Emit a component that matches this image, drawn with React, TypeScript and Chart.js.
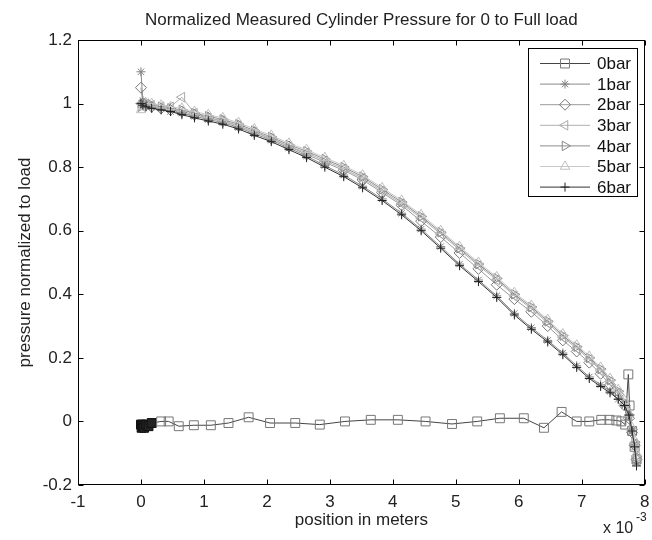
import React, { useEffect, useRef } from 'react';
import { Chart, registerables } from 'chart.js';
import { drawPoint } from 'chart.js/helpers';

Chart.register(...registerables);

// ---------- data (x in units of 1e-3 m) ----------
const xZero = [0, 0.01, 0.02, 0.03, 0.05, 0.08, 0.12, 0.17, 0.32, 0.44, 0.6, 0.84, 1.11, 1.39, 1.71, 2.05, 2.45, 2.84, 3.24, 3.65, 4.08, 4.52, 4.94, 5.34, 5.70, 6.08, 6.40, 6.68, 6.92, 7.12, 7.31, 7.44, 7.55, 7.63, 7.69, 7.74, 7.76, 7.8, 7.84, 7.87];
const y0bar = [-0.01, -0.02, -0.01, -0.015, -0.02, -0.01, -0.015, -0.005, 0, 0, -0.015, -0.012, -0.012, -0.005, 0.013, -0.005, -0.005, -0.01, 0, 0.005, 0.005, 0, -0.008, 0, 0.01, 0.01, -0.02, 0.03, 0, 0, 0.005, 0.005, 0.003, 0, -0.01, 0.148, 0.05, -0.03, -0.08, -0.12];

const xLoad = [0, 0.03, 0.08, 0.17, 0.32, 0.47, 0.65, 0.85, 1.07, 1.3, 1.55, 1.8, 2.07, 2.35, 2.63, 2.92, 3.22, 3.52, 3.83, 4.14, 4.45, 4.76, 5.06, 5.36, 5.65, 5.93, 6.2, 6.46, 6.7, 6.92, 7.12, 7.3, 7.45, 7.58, 7.68, 7.75, 7.8, 7.84, 7.87];
const y1bar = [1.1, 1.01, 1.0, 0.99, 0.985, 0.975, 0.97, 0.96, 0.95, 0.94, 0.925, 0.905, 0.885, 0.86, 0.835, 0.805, 0.775, 0.74, 0.7, 0.655, 0.605, 0.55, 0.495, 0.445, 0.395, 0.34, 0.295, 0.255, 0.215, 0.175, 0.14, 0.115, 0.095, 0.07, 0.05, 0.015, -0.03, -0.08, -0.13];
const y2bar = [1.05, 1.0, 0.995, 0.99, 0.985, 0.98, 0.975, 0.965, 0.955, 0.945, 0.93, 0.91, 0.89, 0.865, 0.84, 0.815, 0.79, 0.76, 0.72, 0.68, 0.63, 0.58, 0.53, 0.48, 0.43, 0.385, 0.345, 0.3, 0.255, 0.22, 0.185, 0.15, 0.115, 0.085, 0.05, 0.01, -0.035, -0.075, -0.12];
const y3bar = [1.0, 0.99, 1.0, 0.995, 0.99, 0.99, 1.02, 0.97, 0.955, 0.945, 0.93, 0.91, 0.89, 0.865, 0.845, 0.82, 0.795, 0.765, 0.725, 0.685, 0.64, 0.59, 0.54, 0.49, 0.445, 0.395, 0.355, 0.31, 0.265, 0.23, 0.195, 0.16, 0.125, 0.09, 0.055, 0.015, -0.03, -0.07, -0.11];
const y4bar = [0.99, 1.0, 1.0, 0.995, 0.99, 0.985, 0.98, 0.97, 0.96, 0.95, 0.935, 0.915, 0.895, 0.87, 0.85, 0.825, 0.8, 0.77, 0.73, 0.69, 0.645, 0.595, 0.545, 0.495, 0.45, 0.4, 0.36, 0.315, 0.27, 0.235, 0.2, 0.165, 0.13, 0.095, 0.06, 0.02, -0.025, -0.065, -0.11];
const y5bar = [0.98, 0.99, 1.0, 1.0, 0.995, 0.99, 0.985, 0.975, 0.965, 0.955, 0.94, 0.92, 0.9, 0.875, 0.855, 0.83, 0.805, 0.775, 0.735, 0.695, 0.65, 0.6, 0.55, 0.5, 0.455, 0.405, 0.365, 0.32, 0.275, 0.24, 0.205, 0.17, 0.135, 0.1, 0.065, 0.025, -0.02, -0.06, -0.1];
const y6bar = [1.0, 0.995, 0.99, 0.985, 0.98, 0.975, 0.965, 0.955, 0.945, 0.935, 0.92, 0.9, 0.88, 0.855, 0.83, 0.8, 0.77, 0.735, 0.695, 0.65, 0.6, 0.545, 0.49, 0.44, 0.39, 0.335, 0.29, 0.25, 0.21, 0.17, 0.135, 0.11, 0.09, 0.07, 0.05, 0.02, -0.03, -0.08, -0.14];

const seriesLabels = ['0bar', '1bar', '2bar', '3bar', '4bar', '5bar', '6bar'];
const xTickValues = [-1, 0, 1, 2, 3, 4, 5, 6, 7, 8];
const yTickValues = [-0.2, 0, 0.2, 0.4, 0.6, 0.8, 1, 1.2];

const titleText = 'Normalized Measured Cylinder Pressure for 0 to Full load';
const xTitle = 'position in meters';
const yTitle = 'pressure normalized to load';

// ---------- styles ----------
const FONT = '"Liberation Sans", Arial, Helvetica, sans-serif';
const styles = [
  { line: '#444', marker: '#777', pointStyle: 'rect', rotation: 0, radius: 6.3 },
  { line: '#8a8a8a', marker: '#808080', pointStyle: 'star', rotation: 0, radius: 4.5 },
  { line: '#9a9a9a', marker: '#777', pointStyle: 'rectRot', rotation: 0, radius: 5.5 },
  { line: '#b0b0b0', marker: '#a8a8a8', pointStyle: 'triangle', rotation: -90, radius: 5.5 },
  { line: '#8c8c8c', marker: '#888', pointStyle: 'triangle', rotation: 90, radius: 5.5 },
  { line: '#c8c8c8', marker: '#c0c0c0', pointStyle: 'triangle', rotation: 0, radius: 5.5 },
  { line: '#333', marker: '#222', pointStyle: 'cross', rotation: 0, radius: 4.5 },
];

const seriesX = [xZero, xLoad, xLoad, xLoad, xLoad, xLoad, xLoad];
const seriesY = [y0bar, y1bar, y2bar, y3bar, y4bar, y5bar, y6bar];

const framePlugin = {
  id: 'matlabFrame',
  afterDraw(chart: any) {
    const { ctx, chartArea, scales } = chart;
    const l = Math.round(chartArea.left) + 0.5;
    const r = Math.round(chartArea.right) - 0.5;
    const t = Math.round(chartArea.top) + 0.5;
    const b = Math.round(chartArea.bottom) - 0.5;
    ctx.save();
    ctx.strokeStyle = '#000';
    ctx.lineWidth = 1;
    ctx.strokeRect(l, t, r - l, b - t);
    ctx.beginPath();
    const tl = 5;
    xTickValues.forEach((v) => {
      const px = Math.round(scales.x.getPixelForValue(v)) + 0.5;
      ctx.moveTo(px, b); ctx.lineTo(px, b - tl);
      ctx.moveTo(px, t); ctx.lineTo(px, t + tl);
    });
    yTickValues.forEach((v) => {
      const py = Math.round(scales.y.getPixelForValue(v)) + 0.5;
      ctx.moveTo(l, py); ctx.lineTo(l + tl, py);
      ctx.moveTo(r, py); ctx.lineTo(r - tl, py);
    });
    ctx.stroke();

    // legend
    const bx = 528.5, by = 48.5, bw = 109, bh = 148;
    ctx.fillStyle = '#fff';
    ctx.fillRect(bx, by, bw, bh);
    ctx.strokeStyle = '#000';
    ctx.strokeRect(bx, by, bw, bh);
    seriesLabels.forEach((lab, i) => {
      const st = styles[i];
      const ry = 63.5 + i * 20.6;
      ctx.strokeStyle = st.line;
      ctx.lineWidth = 1;
      ctx.beginPath();
      ctx.moveTo(540, ry); ctx.lineTo(590, ry);
      ctx.stroke();
      ctx.strokeStyle = st.marker;
      ctx.fillStyle = 'rgba(0,0,0,0)';
      drawPoint(ctx, { pointStyle: st.pointStyle, rotation: st.rotation, radius: st.radius, borderWidth: 1 } as any, 565, ry);
      ctx.fillStyle = '#111';
      ctx.font = `17px ${FONT}`;
      ctx.textBaseline = 'middle';
      ctx.textAlign = 'left';
      ctx.fillText(lab, 597, ry + 1);
    });

    // x 10^-3 multiplier
    ctx.fillStyle = '#222';
    ctx.font = `16px ${FONT}`;
    ctx.textBaseline = 'alphabetic';
    ctx.fillText('x 10', 603, 533);
    ctx.font = `12px ${FONT}`;
    ctx.fillText('-3', 636, 521);
    ctx.restore();
  },
};

export default function App() {
  const ref = useRef<HTMLCanvasElement | null>(null);
  useEffect(() => {
    if (!ref.current) return;
    const datasets = seriesLabels.map((label, i) => {
      const st = styles[i];
      const xs = seriesX[i];
      const ys = seriesY[i];
      return {
        label,
        data: xs.map((x, j) => ({ x, y: ys[j] })),
        borderColor: st.line,
        borderWidth: 1,
        pointStyle: st.pointStyle,
        rotation: st.rotation,
        pointRadius: st.radius,
        pointBorderColor: i === 0 ? (c: any) => (c.dataIndex < 8 ? '#111' : st.marker) : st.marker,
        pointBackgroundColor: i === 0 ? (c: any) => (c.dataIndex < 8 ? '#222' : 'rgba(0,0,0,0)') : 'rgba(0,0,0,0)',
        pointBorderWidth: 1,
        fill: false,
        tension: 0,
        order: 6 - i,
      };
    });
    const chart = new Chart(ref.current, {
      type: 'line',
      data: { datasets },
      plugins: [framePlugin],
      options: {
        animation: false,
        responsive: false,
        maintainAspectRatio: false,
        layout: { padding: { top: 0, right: 4, bottom: 0, left: 0 } },
        plugins: {
          legend: { display: false },
          tooltip: { enabled: false },
          title: {
            display: true,
            text: titleText,
            fullSize: false,
            color: '#222',
            font: { family: FONT, size: 17, weight: 'normal' },
            padding: { top: 10, bottom: 9.6 },
          },
        },
        scales: {
          x: {
            type: 'linear',
            min: -1,
            max: 8,
            afterBuildTicks: (s: any) => { s.ticks = xTickValues.map((v) => ({ value: v })); },
            ticks: {
              color: '#222',
              font: { family: FONT, size: 17 },
              padding: 7,
              maxRotation: 0,
              autoSkip: false,
              callback: (v: any) => String(v),
            },
            grid: { display: false, drawTicks: false },
            border: { display: false },
            title: {
              display: true,
              text: xTitle,
              color: '#222',
              font: { family: FONT, size: 17 },
              padding: { top: 0, bottom: 9 },
            },
            afterFit: (s: any) => { s.height = 55; s.paddingLeft = 0; s.paddingRight = 0; },
          },
          y: {
            type: 'linear',
            min: -0.2,
            max: 1.2,
            afterBuildTicks: (s: any) => { s.ticks = yTickValues.map((v) => ({ value: v })); },
            ticks: {
              color: '#222',
              font: { family: FONT, size: 17 },
              padding: 6,
              autoSkip: false,
              callback: (v: any) => String(Math.round(Number(v) * 10) / 10),
            },
            grid: { display: false, drawTicks: false },
            border: { display: false },
            title: {
              display: true,
              text: yTitle,
              color: '#222',
              font: { family: FONT, size: 17 },
              padding: { top: 15, bottom: 0 },
            },
            afterFit: (s: any) => { s.width = 78; s.paddingTop = 0; s.paddingBottom = 0; },
          },
        },
      } as any,
    });
    return () => chart.destroy();
  }, []);
  return (
    <div style={{ position: 'absolute', left: 0, top: 0, width: 652, height: 540, background: '#fff' }}>
      <canvas ref={ref} width={652} height={540} style={{ width: 652, height: 540, display: 'block' }} />
    </div>
  );
}
